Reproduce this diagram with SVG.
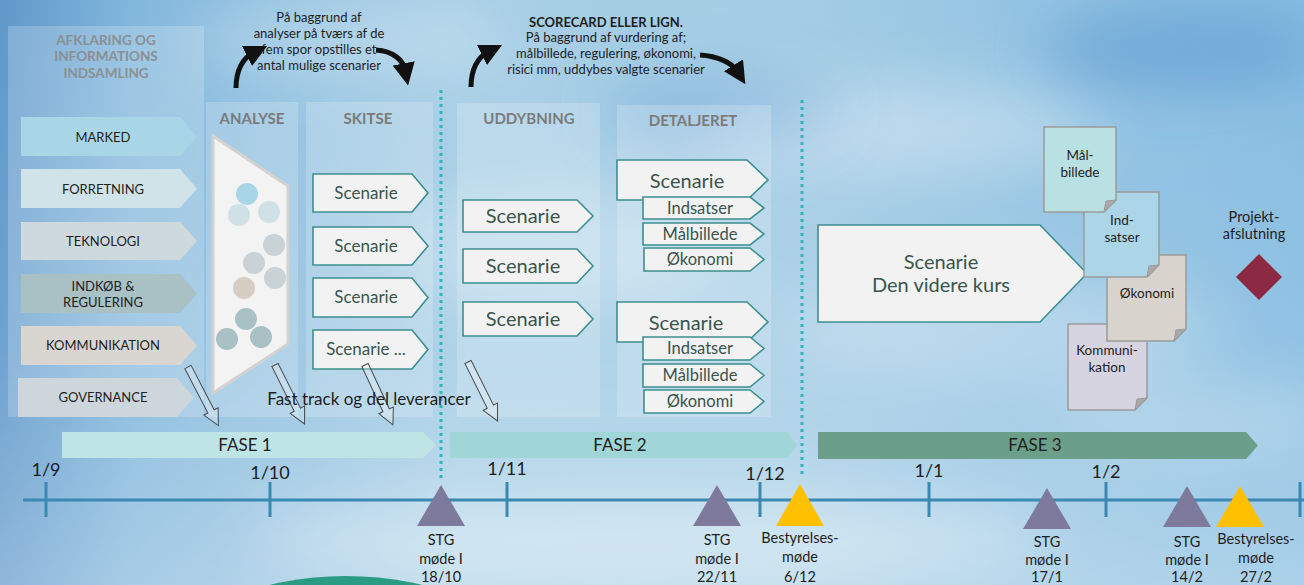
<svg xmlns="http://www.w3.org/2000/svg" width="1304" height="585" viewBox="0 0 1304 585">
<defs>
<linearGradient id="bgH" x1="0" y1="0" x2="1" y2="0">
<stop offset="0" stop-color="#5f98ca"/>
<stop offset="0.1" stop-color="#82b7dc"/>
<stop offset="0.35" stop-color="#a6cee5"/>
<stop offset="0.6" stop-color="#a5cde5"/>
<stop offset="0.85" stop-color="#8fc1e1"/>
<stop offset="1" stop-color="#86bce0"/>
</linearGradient>
<linearGradient id="bgV" x1="0" y1="0" x2="0" y2="1">
<stop offset="0" stop-color="#ffffff" stop-opacity="0"/>
<stop offset="0.6" stop-color="#ffffff" stop-opacity="0.1"/>
<stop offset="1" stop-color="#ffffff" stop-opacity="0.3"/>
</linearGradient>
<filter id="blur" x="-50%" y="-50%" width="200%" height="200%"><feGaussianBlur stdDeviation="28"/></filter>
<marker id="ah" viewBox="0 0 10 10" refX="3" refY="5" markerWidth="4.5" markerHeight="4.5" orient="auto"><path d="M0,0 L10,5 L0,10 z" fill="#111"/></marker>
<polygon id="ha" points="0,-3.5 50,-3.5 50,-8 66,0 50,8 50,3.5 0,3.5"/>
</defs>
<style>
text{font-family:Lato,"Open Sans","Liberation Sans",sans-serif;text-anchor:middle;fill:#1e1e1e}
.panel{fill:#ffffff;fill-opacity:0.2}
.plab{font-weight:bold;font-size:15px;fill:#7b7b7b}
.trk{stroke:none}
.trk text{font-size:13px}
.sc{fill:#f2f2f2;stroke:#3c8f8f;stroke-width:1.6}
.sct{fill:#3a554c}
.fase{font-size:17px}
.date{font-size:18px}
.ml{font-size:14.5px}
.doc{stroke:#9a9a9a;stroke-width:1.5}
.fold{fill:#a9a9a9;stroke:#9a9a9a;stroke-width:1}
.doct{font-size:13.5px}
.ha{fill:#ffffff;fill-opacity:0.25;stroke:#4a4a4a;stroke-width:1}
.tick{stroke:#3a89b3;stroke-width:3}
.dot{stroke:#35b3bb;stroke-width:3;stroke-dasharray:3 4}
.curve{fill:none;stroke:#111;stroke-width:5;marker-end:url(#ah)}
.stg{fill:#7e7a9c}
.bes{fill:#ffc000}
.note{font-size:13px}
</style>

<!-- background -->
<rect x="0" y="0" width="1304" height="585" fill="url(#bgH)"/>
<rect x="0" y="0" width="1304" height="585" fill="url(#bgV)"/>
<g filter="url(#blur)" fill="#ffffff">
<ellipse cx="560" cy="250" rx="160" ry="60" fill-opacity="0.25"/>
<ellipse cx="900" cy="130" rx="200" ry="45" fill-opacity="0.3"/>
<ellipse cx="1000" cy="330" rx="220" ry="55" fill-opacity="0.25"/>
<ellipse cx="650" cy="540" rx="400" ry="45" fill-opacity="0.3"/>
<ellipse cx="1200" cy="420" rx="150" ry="40" fill-opacity="0.2"/>
<ellipse cx="350" cy="40" rx="160" ry="40" fill-opacity="0.25"/>
</g>
<g filter="url(#blur)" fill="#4f8fcc">
<ellipse cx="1180" cy="50" rx="140" ry="40" fill-opacity="0.45"/>
<ellipse cx="720" cy="110" rx="120" ry="35" fill-opacity="0.3"/>
</g>
<circle cx="346" cy="906" r="330" fill="#2b9c84"/>

<!-- left panel -->
<g id="afklaring">
<rect class="panel" x="8" y="26" width="196" height="391"/>
<text x="106" y="45" style="font-weight:bold;font-size:13.5px;fill:#8a8f94">AFKLARING OG</text>
<text x="106" y="61" style="font-weight:bold;font-size:13.5px;fill:#8a8f94">INFORMATIONS</text>
<text x="106" y="78" style="font-weight:bold;font-size:13.5px;fill:#8a8f94">INDSAMLING</text>
</g>
<g id="marked" class="trk"><polygon points="21,117 180,117 197,136.5 180,156 21,156" fill="#a8d6e7"/><text x="103" y="142">MARKED</text></g>
<g id="forretning" class="trk"><polygon points="21,169 180,169 197,188.5 180,208 21,208" fill="#d0e3e8"/><text x="103" y="194">FORRETNING</text></g>
<g id="teknologi" class="trk"><polygon points="21,222 180,222 197,241 180,260 21,260" fill="#cdd9dc"/><text x="103" y="246">TEKNOLOGI</text></g>
<g id="indkob" class="trk"><polygon points="21,274 180,274 197,293.5 180,313 21,313" fill="#a9c0c5"/><text x="103" y="291">INDKØB &amp;</text><text x="103" y="307">REGULERING</text></g>
<g id="kommunikation" class="trk"><polygon points="21,326 180,326 197,345.5 180,365 21,365" fill="#d9d5d0"/><text x="103" y="350">KOMMUNIKATION</text></g>
<g id="governance" class="trk"><polygon points="18,378 177,378 194,397.5 177,417 18,417" fill="#cdd7db"/><text x="103" y="402">GOVERNANCE</text></g>

<!-- analyse -->
<g id="analyse">
<rect class="panel" x="206" y="102" width="92" height="315"/>
<text class="plab" x="252" y="124">ANALYSE</text>
<polygon points="213,136 288,186 288,344 213,393" fill="#f3f3f3" stroke="#d2d2d2" stroke-width="3"/>
<circle cx="247" cy="194" r="11" fill="#a8d6e7"/>
<circle cx="239" cy="215" r="11" fill="#cfe1e7"/>
<circle cx="269" cy="212" r="11" fill="#cfe1e7"/>
<circle cx="274" cy="245" r="11" fill="#c9d3d7"/>
<circle cx="254" cy="263" r="11" fill="#c9d3d7"/>
<circle cx="275" cy="278" r="11" fill="#c9d3d7"/>
<circle cx="244" cy="288" r="11" fill="#d6cdc5"/>
<circle cx="246" cy="319" r="11" fill="#a9c0c5"/>
<circle cx="227" cy="339" r="11" fill="#a9c0c5"/>
<circle cx="261" cy="337" r="11" fill="#a9c0c5"/>
</g>

<!-- skitse -->
<g id="skitse">
<rect class="panel" x="306" y="102" width="127" height="315"/>
<text class="plab" x="368" y="124">SKITSE</text>
</g>
<g id="skitse-1"><polygon class="sc" points="313,174 412,174 428,193 412,212 313,212"/><text class="sct" x="366" y="199" font-size="17">Scenarie</text></g>
<g id="skitse-2"><polygon class="sc" points="313,227 412,227 428,246 412,265 313,265"/><text class="sct" x="366" y="252" font-size="17">Scenarie</text></g>
<g id="skitse-3"><polygon class="sc" points="313,278 412,278 428,297.5 412,317 313,317"/><text class="sct" x="366" y="303" font-size="17">Scenarie</text></g>
<g id="skitse-4"><polygon class="sc" points="313,330 412,330 428,349.5 412,369 313,369"/><text class="sct" x="366" y="355" font-size="17">Scenarie ...</text></g>

<!-- uddybning -->
<g id="uddybning">
<rect class="panel" x="457" y="103" width="143" height="314"/>
<text class="plab" x="529" y="124">UDDYBNING</text>
</g>
<g id="udd-1"><polygon class="sc" points="463,200 577,200 593,216 577,232 463,232"/><text class="sct" x="523" y="223" font-size="20">Scenarie</text></g>
<g id="udd-2"><polygon class="sc" points="463,249 577,249 593,266 577,283 463,283"/><text class="sct" x="523" y="273" font-size="20">Scenarie</text></g>
<g id="udd-3"><polygon class="sc" points="463,302 577,302 593,319 577,336 463,336"/><text class="sct" x="523" y="326" font-size="20">Scenarie</text></g>

<!-- detaljeret -->
<g id="detaljeret">
<rect class="panel" x="617" y="105" width="154" height="312"/>
<text class="plab" x="693" y="126">DETALJERET</text>
</g>
<g id="det-a">
<polygon class="sc" points="617,160 747,160 768,180 747,200 617,200"/><text class="sct" x="687" y="188" font-size="20">Scenarie</text>
<polygon class="sc" points="643,197 750,197 764,208 750,219 643,219"/><text class="sct" x="700" y="214" font-size="16.5">Indsatser</text>
<polygon class="sc" points="643,223 750,223 764,234 750,245 643,245"/><text class="sct" x="700" y="240" font-size="16.5">Målbillede</text>
<polygon class="sc" points="644,248 750,248 764,259.5 750,271 644,271"/><text class="sct" x="700" y="265" font-size="16.5">Økonomi</text>
</g>
<g id="det-b">
<polygon class="sc" points="617,302 747,302 768,322 747,342 617,342"/><text class="sct" x="686" y="330" font-size="20">Scenarie</text>
<polygon class="sc" points="643,337 750,337 764,348.5 750,360 643,360"/><text class="sct" x="700" y="354" font-size="16.5">Indsatser</text>
<polygon class="sc" points="643,364 750,364 764,375.5 750,387 643,387"/><text class="sct" x="700" y="381" font-size="16.5">Målbillede</text>
<polygon class="sc" points="644,390 750,390 764,401.5 750,413 644,413"/><text class="sct" x="700" y="407" font-size="16.5">Økonomi</text>
</g>

<!-- top notes -->
<g id="note-1">
<text class="note" x="319" y="22">På baggrund af</text>
<text class="note" x="319" y="38">analyser på tværs af de</text>
<text class="note" x="319" y="54">fem spor opstilles et</text>
<text class="note" x="319" y="70">antal mulige scenarier</text>
</g>
<g id="note-2">
<text class="note" x="606" y="27" style="font-weight:bold">SCORECARD ELLER LIGN.</text>
<text class="note" x="606" y="42">På baggrund af vurdering af;</text>
<text class="note" x="606" y="58">målbillede, regulering, økonomi,</text>
<text class="note" x="606" y="74">risici mm, uddybes valgte scenarier</text>
</g>

<!-- scenario den videre kurs -->
<g id="kurs">
<polygon class="sc" points="818,225 1040,225 1087,273.5 1040,322 818,322" stroke-width="2"/>
<text class="sct" x="941" y="269" font-size="20">Scenarie</text>
<text class="sct" x="941" y="292" font-size="20">Den videre kurs</text>
</g>

<!-- documents -->
<g id="doc-kommunikation">
<path class="doc" fill="#d6d4e0" d="M1068,324 H1147 V398 L1135,410 H1068 Z"/>
<path class="fold" d="M1147,398 L1135,410 L1137,399 Z"/>
<text class="doct" x="1107" y="355">Kommuni-</text><text class="doct" x="1107" y="372">kation</text>
</g>
<g id="doc-okonomi">
<path class="doc" fill="#d8d3cd" d="M1107,255 H1186 V329 L1174,341 H1107 Z"/>
<path class="fold" d="M1186,329 L1174,341 L1176,330 Z"/>
<text class="doct" x="1147" y="298">Økonomi</text>
</g>
<g id="doc-indsatser">
<path class="doc" fill="#acd6e8" d="M1084,192 H1159 V265 L1147,277 H1084 Z"/>
<path class="fold" d="M1159,265 L1147,277 L1149,266 Z"/>
<text class="doct" x="1122" y="225">Ind-</text><text class="doct" x="1122" y="242">satser</text>
</g>
<g id="doc-malbillede">
<path class="doc" fill="#b9e0e2" d="M1044,127 H1116 V200 L1104,212 H1044 Z"/>
<path class="fold" d="M1116,200 L1104,212 L1106,201 Z"/>
<text class="doct" x="1080" y="160">Mål-</text><text class="doct" x="1080" y="177">billede</text>
</g>

<!-- project end -->
<g id="projektafslutning">
<text x="1254" y="222" font-size="14.5">Projekt-</text>
<text x="1254" y="239" font-size="14.5">afslutning</text>
<polygon points="1259,254 1282,277 1259,300 1236,277" fill="#8c2943"/>
</g>

<!-- phases -->
<g id="fase1"><polygon points="62,432 423,432 436,445 423,458 62,458" fill="#bfe4e6"/><text class="fase" x="245" y="451">FASE 1</text></g>
<g id="fase2"><polygon points="450,432 787,432 797,445 787,458 450,458" fill="#a0d6d7"/><text class="fase" x="620" y="451">FASE 2</text></g>
<g id="fase3"><polygon points="818,432 1246,432 1258,445.5 1246,459 818,459" fill="#6b9f89"/><text class="fase" x="1035" y="451">FASE 3</text></g>

<!-- connectors -->
<g id="connectors">
<line class="dot" x1="441" y1="90" x2="441" y2="478"/>
<line class="dot" x1="802" y1="100" x2="802" y2="478"/>
<path class="curve" d="M236,88 C236,70 243,58 253,53"/>
<path class="curve" d="M376,50 C393,51 403,60 405,70"/>
<path class="curve" d="M471,87 C471,69 478,57 488,52"/>
<path class="curve" d="M700,55 C718,56 732,63 737,71"/>
<use href="#ha" class="ha" transform="translate(188,367) rotate(62.6)"/>
<use href="#ha" class="ha" transform="translate(275,365) rotate(63.4)"/>
<use href="#ha" class="ha" transform="translate(365,365) rotate(65)"/>
<use href="#ha" class="ha" transform="translate(468,362) rotate(63.4)"/>
</g>
<text x="369" y="405" font-size="17">Fast track og del leverancer</text>

<!-- timeline -->
<g id="timeline">
<line class="tick" x1="23" y1="500" x2="1304" y2="500" stroke-width="4"/>
<line class="tick" x1="46" y1="482" x2="46" y2="517"/>
<line class="tick" x1="270" y1="482" x2="270" y2="517"/>
<line class="tick" x1="507" y1="482" x2="507" y2="517"/>
<line class="tick" x1="760" y1="482" x2="760" y2="517"/>
<line class="tick" x1="929" y1="482" x2="929" y2="517"/>
<line class="tick" x1="1106" y1="482" x2="1106" y2="517"/>
<line class="tick" x1="1300" y1="482" x2="1300" y2="517"/>
<text class="date" x="46" y="476">1/9</text>
<text class="date" x="270" y="479">1/10</text>
<text class="date" x="507" y="475">1/11</text>
<text class="date" x="765" y="480">1/12</text>
<text class="date" x="929" y="477">1/1</text>
<text class="date" x="1106" y="478">1/2</text>
</g>

<g id="stg-1810"><polygon class="stg" points="441,485 465,526 417,526"/><text class="ml" x="441" y="545">STG</text><text class="ml" x="441" y="564">møde I</text><text class="ml" x="441" y="582">18/10</text></g>
<g id="stg-2211"><polygon class="stg" points="717,485 741,526 693,526"/><text class="ml" x="717" y="545">STG</text><text class="ml" x="717" y="564">møde I</text><text class="ml" x="717" y="582">22/11</text></g>
<g id="bes-612"><polygon class="bes" points="800,484 824,526 776,526"/><text class="ml" x="800" y="543">Bestyrelses-</text><text class="ml" x="800" y="562">møde</text><text class="ml" x="800" y="582">6/12</text></g>
<g id="stg-171"><polygon class="stg" points="1047,488 1071,529 1023,529"/><text class="ml" x="1047" y="547">STG</text><text class="ml" x="1047" y="565">møde I</text><text class="ml" x="1047" y="582">17/1</text></g>
<g id="stg-142"><polygon class="stg" points="1187,486 1211,527 1163,527"/><text class="ml" x="1187" y="547">STG</text><text class="ml" x="1187" y="565">møde I</text><text class="ml" x="1187" y="582">14/2</text></g>
<g id="bes-272"><polygon class="bes" points="1240,486 1264,527 1216,527"/><text class="ml" x="1256" y="544">Bestyrelses-</text><text class="ml" x="1256" y="563">møde</text><text class="ml" x="1256" y="582">27/2</text></g>
</svg>
